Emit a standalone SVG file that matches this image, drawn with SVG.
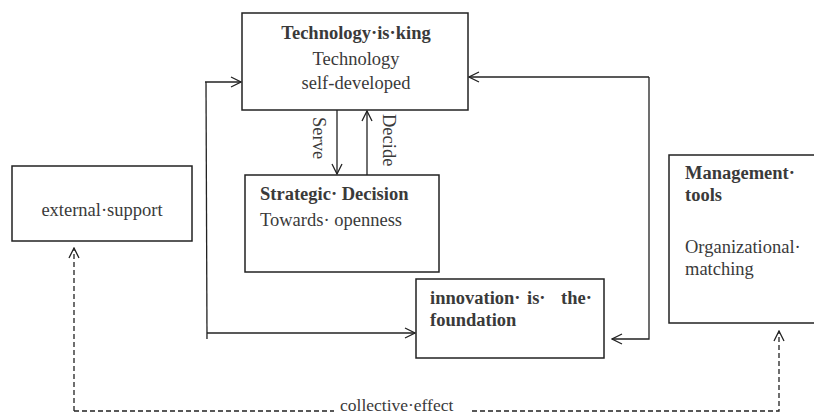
<svg xmlns="http://www.w3.org/2000/svg" width="814" height="416" viewBox="0 0 814 416">
<style>
.box{fill:#fff;stroke:#222;stroke-width:1.5}
.t{font-family:"Liberation Serif","DejaVu Serif",serif;font-size:18.5px;fill:#3a3a3a}
.b{font-weight:bold}
.ln{fill:none;stroke:#222;stroke-width:1.3}
.ds{fill:none;stroke:#222;stroke-width:1.3;stroke-dasharray:5,3}
</style>
<defs>
<marker id="arr" viewBox="0 0 12 12" refX="11" refY="6" markerWidth="12" markerHeight="12" markerUnits="userSpaceOnUse" orient="auto">
<path d="M1,1 L11,6 L1,11" fill="none" stroke="#222" stroke-width="1.3"/>
</marker>
</defs>
<rect width="814" height="416" fill="#fff"/>
<g id="connectors">
<path class="ln" d="M205,82 L241,82" marker-end="url(#arr)"/>
<path class="ln" d="M206,82 L207,339"/>
<path class="ln" d="M207,333 L415,333" marker-end="url(#arr)"/>
<path class="ln" d="M649,77 L469,77" marker-end="url(#arr)"/>
<path class="ln" d="M649,77 L649,339 L612,339" marker-end="url(#arr)"/>
<path class="ln" d="M337,110 L337,174" marker-end="url(#arr)"/>
<path class="ln" d="M367,176 L367,111" marker-end="url(#arr)"/>
<text class="t" transform="translate(313,117) rotate(90)">Serve</text>
<text class="t" transform="translate(383,114) rotate(90)">Decide</text>
<path class="ds" d="M74,411 L74,248" marker-end="url(#arr)"/>
<path class="ds" d="M74,411 L334,411"/>
<path class="ds" d="M472,411 L779,411 L779,331" marker-end="url(#arr)"/>
<text class="t" x="340" y="411" style="font-size:17.5px">collective·effect</text>
</g>
<g id="tech">
<rect class="box" x="242" y="13" width="226" height="97"/>
<text class="t b" x="356" y="39" text-anchor="middle">Technology·is·king</text>
<text class="t" x="356" y="65" text-anchor="middle">Technology</text>
<text class="t" x="356" y="89" text-anchor="middle">self-developed</text>
</g>
<g id="strategic">
<rect class="box" x="245" y="175" width="194" height="97"/>
<text class="t b" x="260" y="200">Strategic· Decision</text>
<text class="t" x="260" y="226">Towards· openness</text>
</g>
<g id="external">
<rect class="box" x="12" y="166" width="180" height="75"/>
<text class="t" x="102" y="216" text-anchor="middle">external·support</text>
</g>
<g id="innovation">
<rect class="box" x="416" y="279" width="188" height="79"/>
<text class="t b" y="304"><tspan x="430">innovation·</tspan><tspan x="527">is·</tspan><tspan x="561">the·</tspan></text>
<text class="t b" x="430" y="326">foundation</text>
</g>
<g id="management">
<rect class="box" x="669" y="155" width="160" height="168"/>
<text class="t b" x="685" y="179">Management·</text>
<text class="t b" x="685" y="201">tools</text>
<text class="t" x="685" y="253">Organizational·</text>
<text class="t" x="685" y="275">matching</text>
</g>
</svg>
